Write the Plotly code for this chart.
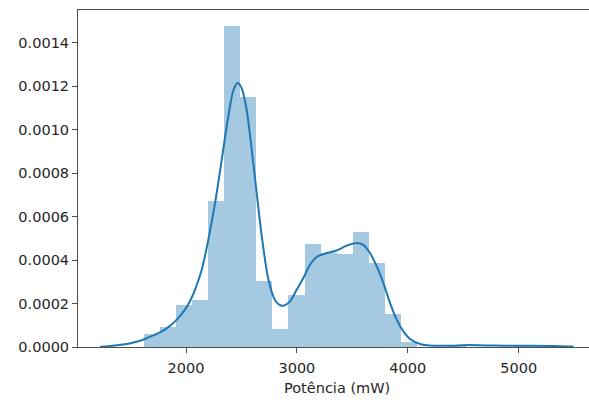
import plotly.graph_objects as go

# Histogram of power readings (density-normalised), 24 equal-width bins
bin_edges = [1617, 1762, 1908, 2053, 2198, 2343, 2489, 2634, 2779, 2924,
             3070, 3215, 3360, 3505, 3651, 3796, 3941, 4086, 4232, 4377,
             4522, 4667, 4813, 4958, 5103]
bin_density = [0.000058, 0.000090, 0.000193, 0.000217, 0.000673, 0.001476,
               0.001149, 0.000302, 0.000081, 0.000237, 0.000474, 0.000432,
               0.000430, 0.000529, 0.000386, 0.000152, 0.000022, 0.0,
               0.0, 0.000005, 0.0, 0.0, 0.0, 0.000005]

# Kernel density estimate of the same readings
kde_x = [1225, 1300, 1400, 1480, 1560, 1630, 1700, 1781, 1850, 1901, 1950,
         1991, 2040, 2081, 2142, 2201, 2262, 2322, 2381, 2427, 2466, 2502,
         2547, 2592, 2637, 2683, 2743, 2803, 2850, 2880, 2938, 2998, 3058,
         3118, 3178, 3269, 3359, 3449, 3539, 3599, 3659, 3720, 3780, 3840,
         3900, 3960, 4020, 4110, 4200, 4350, 4561, 4700, 4861, 5100, 5312,
         5495]
kde_y = [0.0000015, 0.000004, 0.000009, 0.000015, 0.000025, 0.000037,
         0.000052, 0.000072, 0.000095, 0.000118, 0.000145, 0.000172,
         0.000215, 0.000263, 0.000355, 0.000493, 0.000662, 0.000861,
         0.00106, 0.00118, 0.001214, 0.00119, 0.00109, 0.00091, 0.00071,
         0.00051, 0.00031, 0.000215, 0.000192, 0.00019, 0.00021, 0.000263,
         0.000317, 0.000378, 0.000414, 0.000432, 0.000444, 0.000466,
         0.000478, 0.00047, 0.000432, 0.000371, 0.000294, 0.000202,
         0.000126, 0.000072, 0.000037, 0.000014, 0.000007, 0.000006,
         0.000009, 0.000007, 0.000006, 0.000006, 0.000005, 0.000002]

x_ticks = [2000, 3000, 4000, 5000]
y_ticks = [0.0, 0.0002, 0.0004, 0.0006, 0.0008, 0.0010, 0.0012, 0.0014]
x_label = "Potência (mW)"

centers = [(a + b) / 2 for a, b in zip(bin_edges[:-1], bin_edges[1:])]
widths = [b - a for a, b in zip(bin_edges[:-1], bin_edges[1:])]

BLUE = "#1f77b4"
TEXT = "#262626"
FONT = "DejaVu Sans"
SIZE = 14.5

fig = go.Figure()
fig.add_trace(go.Bar(
    x=centers, y=bin_density, width=widths,
    marker=dict(color="rgba(31,119,180,0.4)", line=dict(width=0)),
    hoverinfo="skip", showlegend=False,
))
fig.add_trace(go.Scatter(
    x=kde_x, y=kde_y, mode="lines",
    line=dict(color=BLUE, width=2, shape="spline", smoothing=0.8),
    showlegend=False,
))

fig.update_layout(
    width=589, height=403,
    margin=dict(l=78, r=0, t=10, b=56),
    paper_bgcolor="white", plot_bgcolor="white",
    bargap=0,
    font=dict(family=FONT, size=SIZE, color=TEXT),
    xaxis=dict(
        range=[1026, 5634], tickvals=x_ticks,
        ticktext=[str(v) for v in x_ticks],
        showgrid=False, zeroline=False,
        showline=True, linecolor="#4d4d4d", linewidth=1, mirror=True,
        ticks="outside", ticklen=5, tickwidth=1, tickcolor="#4d4d4d",
        ticklabelstandoff=3,
    ),
    yaxis=dict(
        range=[0, 0.00155], tickvals=y_ticks,
        ticktext=[f"{v:.4f}" for v in y_ticks],
        showgrid=False, zeroline=False,
        showline=True, linecolor="#4d4d4d", linewidth=1, mirror=False,
        ticks="outside", ticklen=5, tickwidth=1, tickcolor="#4d4d4d",
    ),
    annotations=[dict(
        text=x_label, xref="paper", yref="paper",
        x=0.5076, y=0, yshift=-31, xanchor="center", yanchor="top",
        showarrow=False, font=dict(family=FONT, size=SIZE, color=TEXT),
    )],
)

fig.write_html("out.html")
